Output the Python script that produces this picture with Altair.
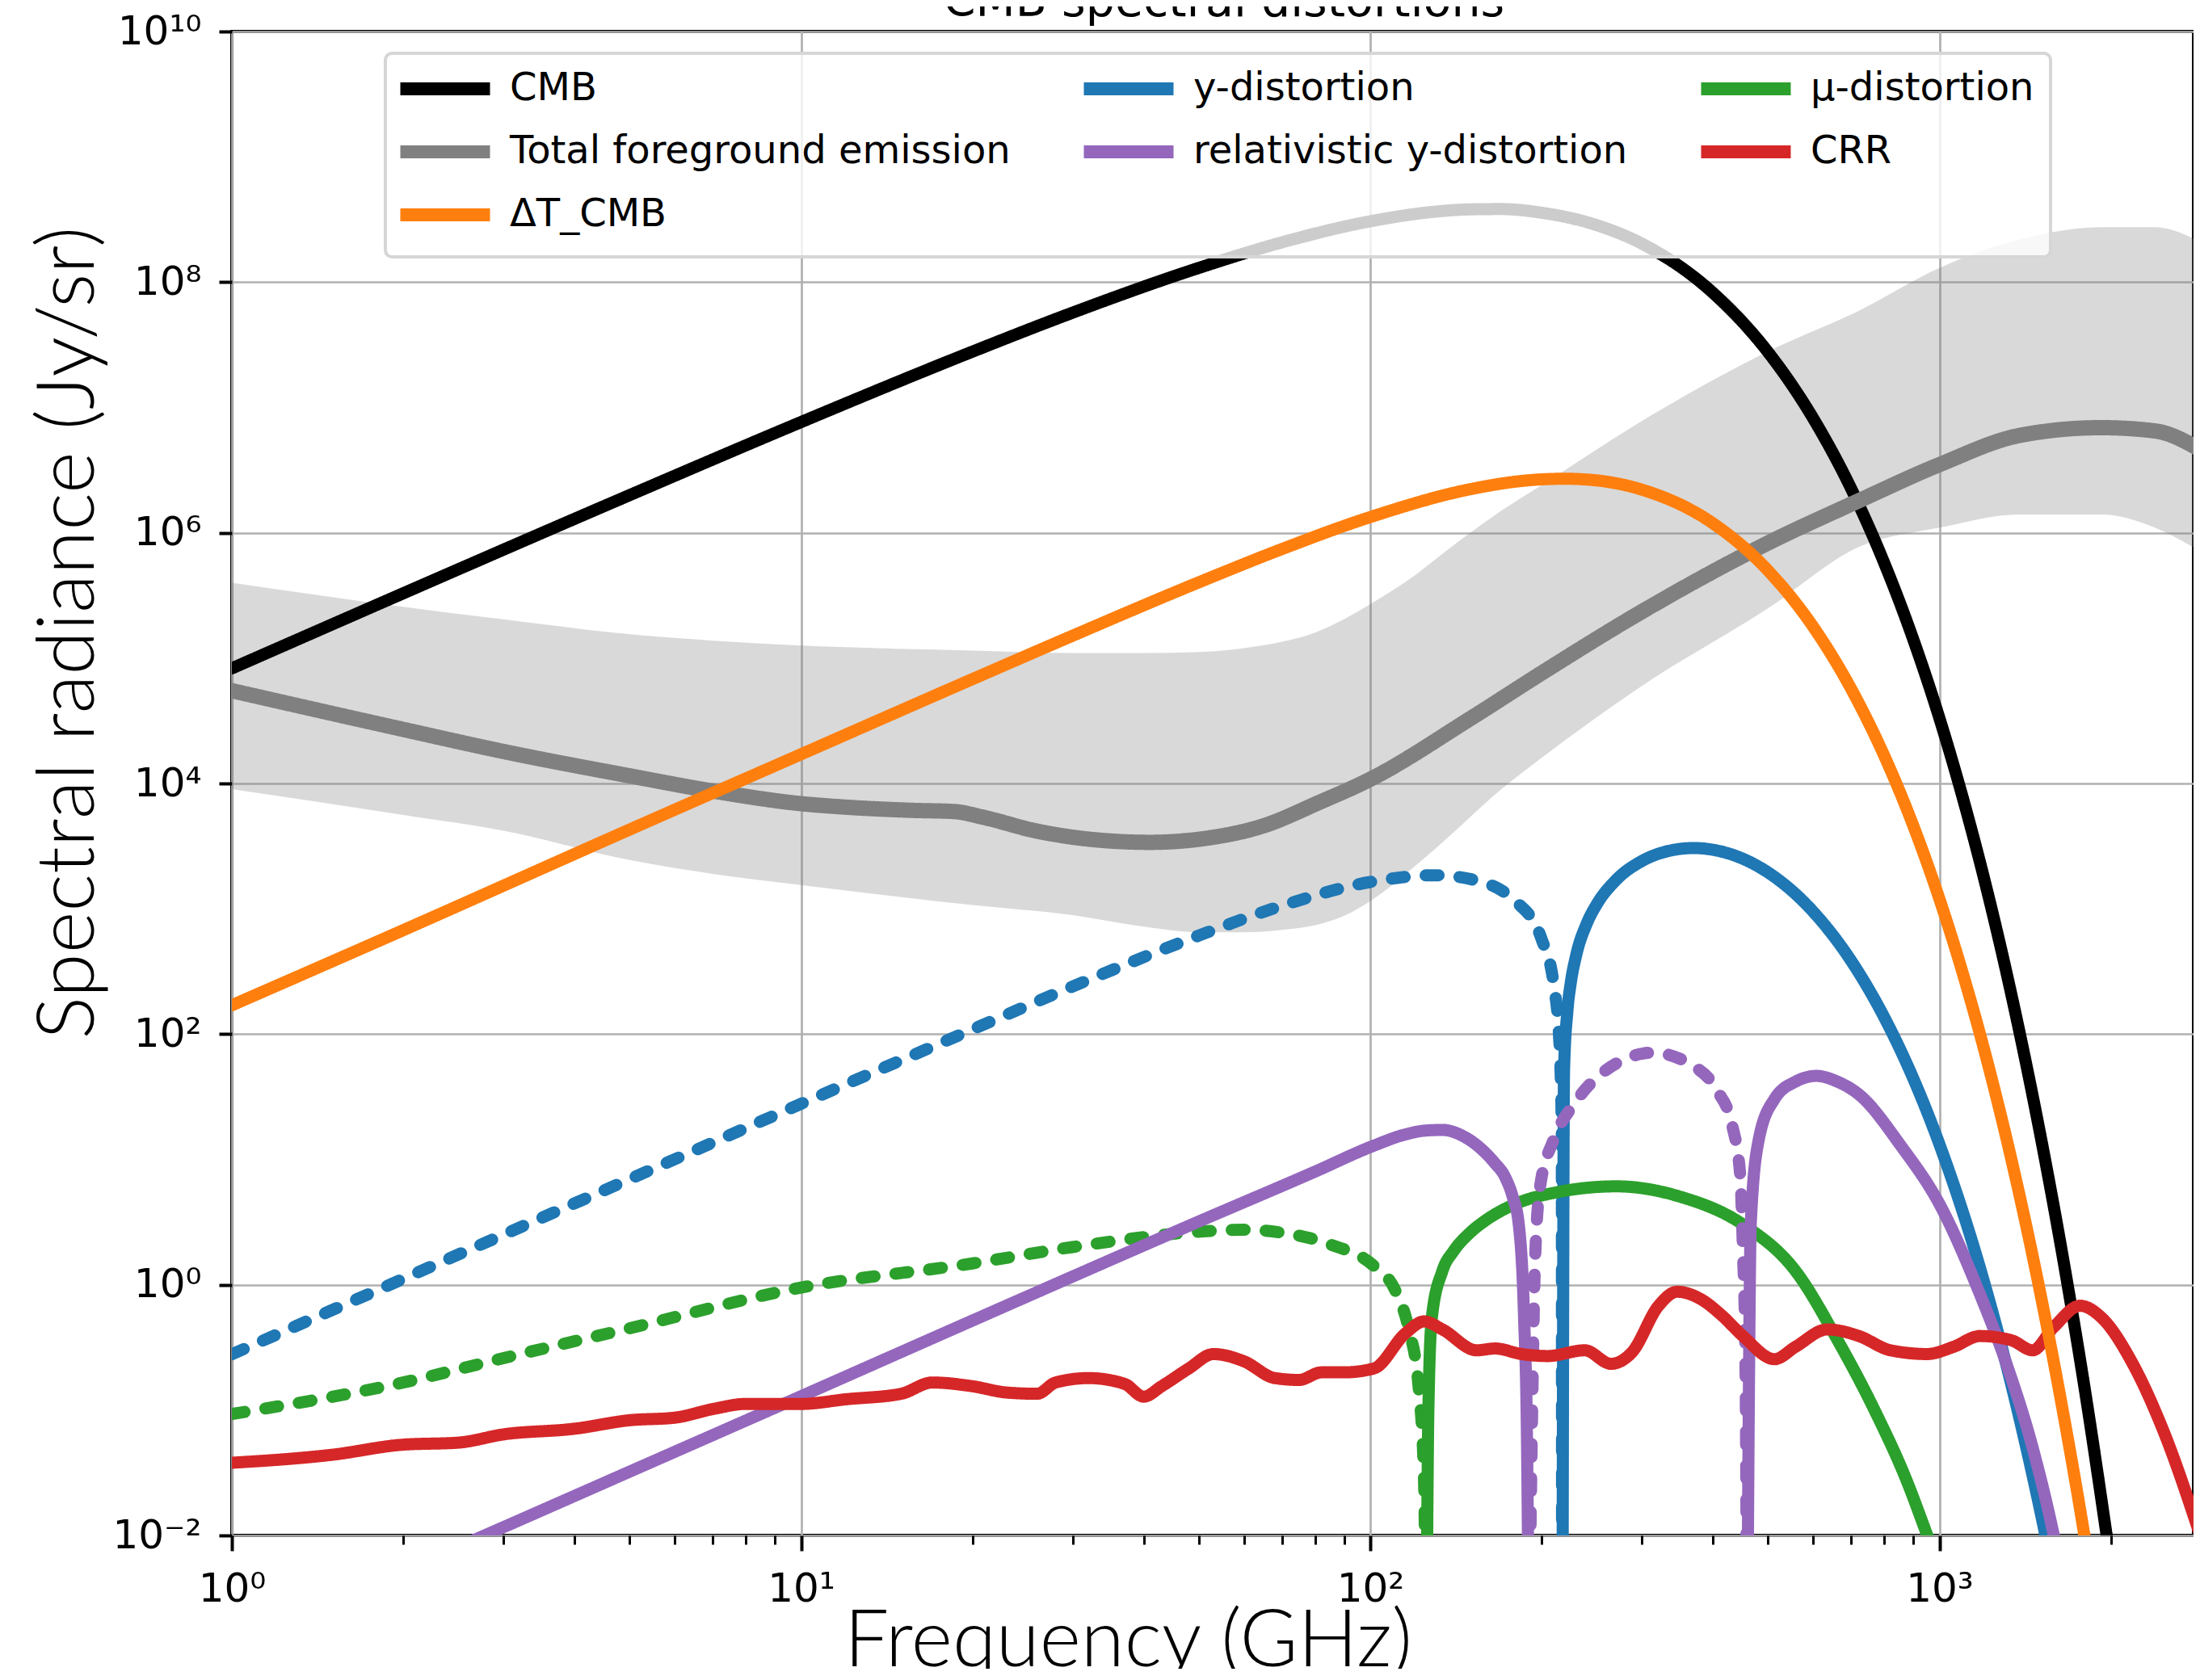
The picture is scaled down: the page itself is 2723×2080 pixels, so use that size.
import altair as alt
import pandas as pd

# ---------------- values (GHz, Jy/sr) ----------------
cmb_f = [1, 2, 5, 10, 20, 30, 50, 70, 100, 130, 150, 170, 200, 250, 300, 400, 500, 600,
         700, 800, 900, 1000, 1100, 1200, 1350, 1500, 1650, 1800, 2000]
cmb_v = [8.29e4, 3.29e5, 2.0e6, 7.65e6, 2.79e7, 5.71e7, 1.30e8, 2.08e8, 3.06e8, 3.65e8,
         3.81e8, 3.83e8, 3.58e8, 2.85e8, 2.03e8, 8.22e7, 2.76e7, 8.19e6, 2.24e6, 5.73e5,
         1.40e5, 3.31e4, 7.56e3, 1.69e3, 171, 16.7, 1.59, 0.147, 0.0059]

fg_f = [1, 2, 3, 5, 7, 10, 11.8, 15.7, 18.6, 20.8, 26, 32.7, 41, 51.7, 65, 81, 100,
        150, 200, 300, 500, 721, 1000, 1387, 1923, 2391, 2874]
fg_v = [5.5e4, 2.7e4, 1.8e4, 1.15e4, 8.7e3, 6.9e3, 6.5e3, 6.1e3, 5.97e3, 5.4e3, 4.16e3,
        3.56e3, 3.39e3, 3.66e3, 4.6e3, 7.0e3, 1.08e4, 3.3e4, 7.6e4, 2.35e5, 8.3e5, 1.8e6,
        3.5e6, 6.0e6, 6.9e6, 6.5e6, 4.6e6]

band_f = [1, 2, 3, 5, 7, 10, 20, 30, 40, 50, 60, 70, 80, 90, 100, 120, 135, 170, 200,
          300, 500, 721, 1000, 1387, 1923, 2391, 2874]
band_hi = [4.0e5, 2.57e5, 2.04e5, 1.55e5, 1.38e5, 1.26e5, 1.15e5, 1.10e5, 1.10e5, 1.12e5,
           1.2e5, 1.35e5, 1.6e5, 2.05e5, 2.7e5, 4.6e5, 7.0e5, 1.5e6, 2.4e6, 7.8e6, 2.8e7,
           5.9e7, 1.3e8, 2.2e8, 2.75e8, 2.75e8, 2.1e8]
band_lo = [9.0e3, 5.6e3, 4.2e3, 2.45e3, 1.9e3, 1.55e3, 1.07e3, 890, 720, 650, 650, 680,
           740, 880, 1.15e3, 2.2e3, 3.5e3, 9.0e3, 1.6e4, 6.0e4, 2.5e5, 7.7e5, 1.1e6,
           1.4e6, 1.4e6, 1.1e6, 7.1e5]

dt_f = [1, 2, 5, 10, 20, 30, 50, 70, 100, 150, 180, 200, 220, 240, 260, 300, 400, 500,
        600, 700, 800, 900, 1000, 1100, 1200, 1350, 1500, 1650, 1800, 1900]
dt_v = [170, 675, 4290, 1.71e4, 6.80e4, 1.51e5, 4.03e5, 7.43e5, 1.335e6, 2.23e6, 2.56e6,
        2.67e6, 2.70e6, 2.66e6, 2.56e6, 2.21e6, 1.19e6, 4.99e5, 1.78e5, 5.66e4, 1.66e4,
        4570, 1196, 301, 73.3, 8.35, 0.907, 0.0946, 0.0096, 0.002]

# y-distortion: negative part (dashed) and positive part (solid)
yneg_f = [1, 2, 5, 10, 20, 30, 50, 70, 100, 130, 150, 180, 200, 210, 215, 216, 217, 217.3]
yneg_v = [0.279, 1.116, 6.97, 27.8, 109, 240, 612, 1058, 1636, 1852, 1725, 1148, 573,
          250, 83, 49, 15.8, 0.001]
ypos_f = [217.6, 219, 222, 225, 230, 240, 250, 270, 300, 330, 370, 410, 450, 500, 600,
          700, 800, 900, 1000, 1200, 1400, 1500, 1550, 1600]
ypos_v = [0.001, 51.6, 153, 255, 425, 760, 1086, 1688, 2404, 2854, 3052, 2892, 2524, 1949,
          948, 383, 136, 44.0, 13.2, 1.02, 0.0672, 0.0165, 0.0081, 0.004]

# relativistic y-distortion: positive, negative, positive
rel1_f = [2.5, 2.78, 5, 10, 20, 50, 80, 101.5, 115, 125, 133.9, 145, 155.5, 165, 172.9,
          178, 182.4, 186.3, 188.5, 190]
rel1_v = [0.0081, 0.01, 0.0323, 0.129, 0.518, 3.2, 8.0, 12.9, 15.8, 17.0, 17.2, 15.5, 12.5,
          9.5, 7.1, 5.0, 3.0, 0.55, 0.06, 0.001]
rel2_f = [190, 192.5, 194.5, 198.7, 209.6, 228.2, 265, 314, 365, 406, 433, 447, 451.4,
          456.3, 459.2]
rel2_v = [0.001, 0.1, 1.29, 6.0, 14.1, 27.8, 55.1, 71.1, 57.4, 35.9, 18.2, 7.1, 1.98,
          0.23, 0.001]
rel3_f = [459.5, 463, 466, 481, 513, 560, 608, 660, 722, 855, 1004, 1178, 1311, 1458,
          1588, 1700]
rel3_v = [0.001, 0.23, 3.0, 14.1, 30.3, 42, 46.4, 42, 33.0, 12.9, 4.26, 0.84, 0.235,
          0.05, 0.01, 0.002]

# mu-distortion: negative (dashed) and positive (solid)
muneg_f = [1, 2, 3, 5, 10, 20, 30, 50, 60, 70, 85, 101.5, 110.4, 116.6, 121.6, 124.3,
           125.3]
muneg_v = [0.093, 0.166, 0.26, 0.45, 0.95, 1.48, 2.0, 2.65, 2.75, 2.6, 2.1, 1.41, 0.92,
           0.46, 0.153, 0.028, 0.001]
mupos_f = [125.5, 126.5, 128.3, 133.9, 140, 149, 160, 176.7, 214, 270.6, 349.4, 451.4,
           558.6, 662.6, 769, 874, 952, 1050]
mupos_v = [0.001, 0.1, 0.55, 1.29, 1.85, 2.55, 3.3, 4.26, 5.5, 6.1, 5.06, 3.03, 1.29,
           0.36, 0.1, 0.028, 0.01, 0.003]

crr_f = [1, 1.5, 2, 2.5, 3, 4, 5, 6, 7, 8, 10, 12, 15, 17, 20, 23, 26, 28, 32, 37, 40,
         43, 48, 53, 60, 68, 75, 82, 90, 101.5, 115.3, 124.3, 133.9, 153.8, 165.7, 184.4,
         205.1, 238.2, 264.8, 288.4, 321, 345.8, 380.5, 414.5, 451.4, 513.2, 558.6, 634.9,
         721.9, 820.2, 952, 1059, 1178, 1339, 1458, 1588, 1767, 1924, 2186, 2485, 2871]
crr_v = [0.038, 0.044, 0.053, 0.055, 0.064, 0.071, 0.083, 0.087, 0.102, 0.112, 0.112,
         0.122, 0.135, 0.166, 0.155, 0.138, 0.135, 0.166, 0.18, 0.162, 0.128, 0.155, 0.215,
         0.28, 0.245, 0.18, 0.174, 0.2, 0.2, 0.215, 0.41, 0.51, 0.44, 0.30, 0.31, 0.28,
         0.27, 0.30, 0.234, 0.29, 0.68, 0.88, 0.77, 0.57, 0.39, 0.255, 0.32, 0.44, 0.39,
         0.30, 0.28, 0.32, 0.39, 0.36, 0.30, 0.46, 0.68, 0.55, 0.234, 0.065, 0.01]

# legend entries, listed column by column (three columns, three rows)
series_order = ["CMB", "Total foreground emission", "CRR", "y-distortion",
                "relativistic y-distortion", "ΔT_CMB", "μ-distortion"]
series_colors = ["#000000", "#808080", "#d62728", "#1f77b4", "#9467bd", "#ff7f0e",
                 "#2ca02c"]

# (series, line style, segment id, frequencies, values, drawing group)
segments = [
    ("CMB", "solid", "cmb", cmb_f, cmb_v, "a"),
    ("y-distortion", "dashed", "yneg", yneg_f, yneg_v, "a"),
    ("y-distortion", "solid", "ypos", ypos_f, ypos_v, "a"),
    ("μ-distortion", "dashed", "muneg", muneg_f, muneg_v, "a"),
    ("μ-distortion", "solid", "mupos", mupos_f, mupos_v, "a"),
    ("Total foreground emission", "solid", "fg", fg_f, fg_v, "b"),
    ("relativistic y-distortion", "solid", "rel1", rel1_f, rel1_v, "c"),
    ("relativistic y-distortion", "dashed", "rel2", rel2_f, rel2_v, "c"),
    ("relativistic y-distortion", "solid", "rel3", rel3_f, rel3_v, "c"),
    ("CRR", "solid", "crr", crr_f, crr_v, "c"),
    ("ΔT_CMB", "solid", "dt", dt_f, dt_v, "c"),
]

rows = []
for name, style, seg, fs, vs, grp in segments:
    for f, v in zip(fs, vs):
        rows.append({"freq": f, "val": v, "series": name, "style": style, "seg": seg,
                     "grp": grp})
line_df = pd.DataFrame(rows)
band_df = pd.DataFrame({"freq": band_f, "hi": band_hi, "lo": band_lo})

# ---------------- scales & axes ----------------
xs = alt.Scale(type="log", domain=[1, 2795], nice=False)
ys = alt.Scale(type="log", domain=[0.01, 1e10], nice=False)

ex = "round(log(datum.value)/LN10)"
ylab = (f"{ex} == 10 ? '10¹⁰' : {ex} == 8 ? '10⁸' : {ex} == 6 ? '10⁶' : "
        f"{ex} == 4 ? '10⁴' : {ex} == 2 ? '10²' : {ex} == 0 ? '10⁰' : '10⁻²'")
xlab = f"{ex} == 0 ? '10⁰' : {ex} == 1 ? '10¹' : {ex} == 2 ? '10²' : '10³'"

yaxis = alt.Axis(
    values=[0.01, 1, 100, 1e4, 1e6, 1e8, 1e10], labelExpr=ylab,
    title="Spectral radiance (Jy/sr)", titleFont="Lato", titleFontSize=99,
    titleFontWeight=300, titleColor="black", titleX=-172, titleY=744, titleAngle=270,
    titleAlign="center", titleBaseline="alphabetic",
    labelFont="DejaVu Sans", labelFontSize=50, labelColor="black", labelPadding=22,
    tickSize=16, tickWidth=4, tickColor="black", domain=False,
    grid=True, gridColor="#b0b0b0", gridWidth=2.7, zindex=0, labelFlush=False,
    labelOverlap=False,
)
xmajor = alt.Axis(
    orient="bottom", values=[1, 10, 100, 1000], labelExpr=xlab,
    title="Frequency (GHz)", titleFont="Lato", titleFontSize=98, titleFontWeight=300,
    titleColor="black", titleX=1109, titleY=161, titleAlign="center",
    titleBaseline="alphabetic",
    labelFont="DejaVu Sans", labelFontSize=50, labelColor="black", labelPadding=62,
    labelBaseline="alphabetic", labelAlign="center",
    tickSize=19, tickWidth=4, tickColor="black", domain=False,
    grid=True, gridColor="#b0b0b0", gridWidth=2.7, zindex=0, labelFlush=False,
    labelOverlap=False,
)
xminor = alt.Axis(
    orient="bottom", values=[2, 3, 4, 5, 6, 7, 8, 9, 20, 30, 40, 50, 60, 70, 80, 90,
                             200, 300, 400, 500, 600, 700, 800, 900, 2000],
    title=None, labels=False, tickSize=11, tickWidth=3, tickColor="black",
    domain=False, grid=False, zindex=0,
)

legend = alt.Legend(
    title=None, orient="none", legendX=190, legendY=27, columns=3,
    values=series_order,
    symbolType="M-4,0H4", symbolSize=770, symbolStrokeWidth=16, symbolOpacity=1,
    symbolOffset=30,
    labelFont="DejaVu Sans", labelFontSize=48, labelColor="black", labelLimit=2000,
    labelOffset=56, rowPadding=14, columnPadding=58, padding=20,
    fillColor="rgba(255,255,255,0.8)", strokeColor="#d6d6d6", cornerRadius=8,
)
color = alt.Color("series:N", scale=alt.Scale(domain=series_order, range=series_colors),
                  legend=legend)
dash = alt.StrokeDash("style:N",
                      scale=alt.Scale(domain=["solid", "dashed"], range=[[1, 0], [16, 26]]),
                      legend=None)

band = alt.Chart(band_df).mark_area(color="#808080", opacity=0.3, clip=True,
                                    interpolate="monotone").encode(
    x=alt.X("freq:Q", scale=xs, axis=xminor),
    y=alt.Y("hi:Q", scale=ys, axis=yaxis),
    y2="lo:Q",
)


def line_layer(grp, width, xaxis):
    return alt.Chart(line_df[line_df["grp"] == grp]).mark_line(
        clip=True, interpolate="monotone", strokeCap="round", strokeJoin="round",
        strokeWidth=width,
    ).encode(
        x=alt.X("freq:Q", scale=xs, axis=xaxis),
        y=alt.Y("val:Q", scale=ys, axis=yaxis),
        color=color,
        strokeDash=dash,
        detail="seg:N",
    )


layer_a = line_layer("a", 15, xmajor)
layer_b = line_layer("b", 19, None)
layer_c = line_layer("c", 15, None)

chart = alt.layer(band, layer_a, layer_b, layer_c).resolve_axis(
    x="independent"
).properties(
    width=2428, height=1862,
    title=alt.TitleParams(text="CMB spectral distortions", font="DejaVu Sans",
                          fontSize=57, fontWeight="normal", color="black",
                          anchor="middle", baseline="alphabetic", offset=-14, dx=14,
                          dy=49),
    autosize=alt.AutoSizeParams(type="none"),
    padding={"left": 279, "top": 31, "right": 0, "bottom": 165},
).configure_view(stroke="black", strokeWidth=4).configure_legend(strokeWidth=4)

chart.save("out.html", embed_options={"renderer": "svg", "actions": False})
